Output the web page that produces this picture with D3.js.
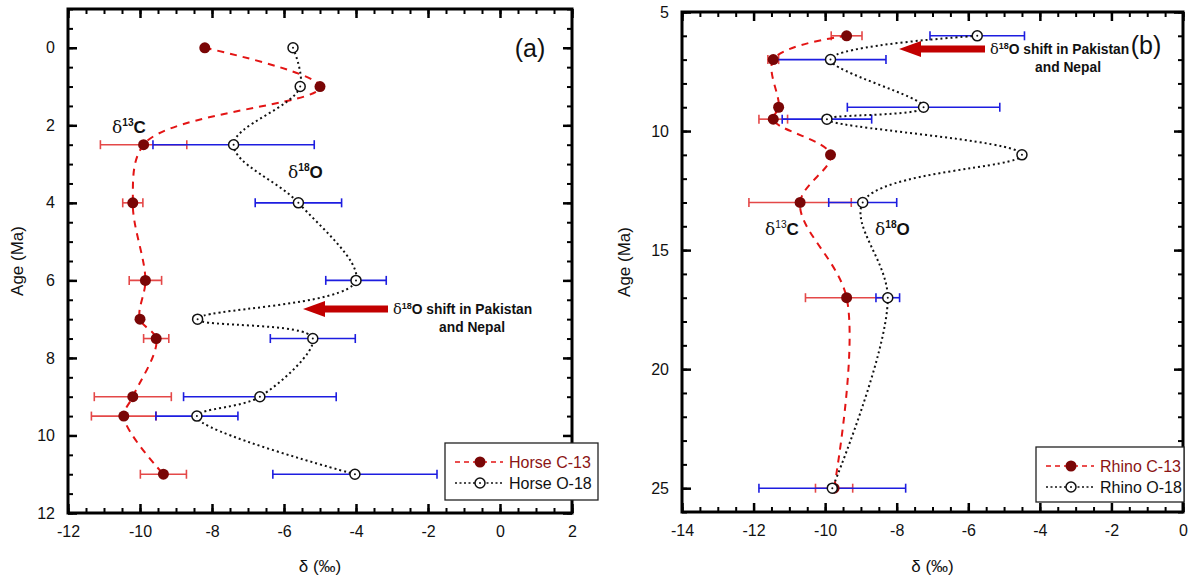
<!DOCTYPE html>
<html lang="en">
<head>
<meta charset="utf-8">
<title>Horse and Rhino isotopes</title>
<script src="https://cdnjs.cloudflare.com/ajax/libs/d3/7.8.5/d3.min.js"></script>
<style>
  body { margin: 0; background: #fff; }
  svg text { font-family: "Liberation Sans", Arial, sans-serif; }
</style>
</head>
<body>
<div id="chart"></div>
<script>
// horse (panel a)
const horseAge = [0, 1, 2.5, 4, 6, 7, 7.5, 9, 9.5, 11];
const horseC13 = [-8.2, -5.0, -9.9, -10.2, -9.85, -10.0, -9.55, -10.2, -10.45, -9.35];
const horseC13Err = [null, null, 1.2, 0.28, 0.45, null, 0.35, 1.07, 0.9, 0.64];
const horseO18 = [-5.75, -5.55, -7.4, -5.6, -4.0, -8.4, -5.2, -6.67, -8.42, -4.03];
const horseO18Err = [null, null, 2.24, 1.2, 0.84, null, 1.18, 2.12, 1.14, 2.28];

// rhino (panel b)
const rhinoAge = [6, 7, 9, 9.5, 11, 13, 17, 25];
const rhinoC13 = [-9.4, -11.45, -11.3, -11.45, -9.85, -10.7, -9.4, -9.75];
const rhinoC13Err = [0.43, 0.15, null, 0.4, null, 1.43, 1.15, 0.52];
const rhinoO18 = [-5.75, -9.85, -7.25, -9.95, -4.5, -8.95, -8.25, -9.8];
const rhinoO18Err = [1.32, 1.55, 2.13, 1.25, null, 0.95, 0.33, 2.05];

const xTicksA = [-12, -10, -8, -6, -4, -2, 0, 2];
const yTicksA = [0, 2, 4, 6, 8, 10, 12];
const xTicksB = [-14, -12, -10, -8, -6, -4, -2, 0];
const yTicksB = [5, 10, 15, 20, 25];

const W = 1199, H = 577;
const svg = d3.select("#chart").append("svg").attr("width", W).attr("height", H);

const RED_LINE = "#e31414", DARK_RED = "#7a0606", RED_ERR = "#e44848", BLUE_ERR = "#1d1de0";
const fmt = v => String(v);   // plain hyphen minus like the original

function range(a, b, step) {
  const out = [];
  for (let v = a; v <= b + 1e-9; v += step) out.push(+v.toFixed(3));
  return out;
}

function drawPanel(p) {
  const x = d3.scaleLinear().domain(p.xDomain).range([p.left, p.right]);
  const y = d3.scaleLinear().domain(p.yDomain).range([p.top, p.bottom]);
  const g = svg.append("g");

  // axes: major + minor, inward ticks, on all four sides
  const axes = [
    {gen: d3.axisBottom(x), tr: "translate(0," + p.bottom + ")", major: p.xTicks, minor: p.xMinor, label: true},
    {gen: d3.axisTop(x), tr: "translate(0," + p.top + ")", major: p.xTicks, minor: p.xMinor, label: false},
    {gen: d3.axisLeft(y), tr: "translate(" + p.left + ",0)", major: p.yTicks, minor: p.yMinor, label: true},
    {gen: d3.axisRight(y), tr: "translate(" + p.right + ",0)", major: p.yTicks, minor: p.yMinor, label: false}
  ];
  axes.forEach(a => {
    g.append("g").attr("transform", a.tr)
      .call(a.gen.tickValues(a.minor).tickSize(-5).tickFormat(""))
      .call(s => s.select(".domain").remove())
      .selectAll("line").attr("stroke", "#000").attr("stroke-width", 2);
    const ax = g.append("g").attr("transform", a.tr)
      .call(a.gen.tickValues(a.major).tickSize(-9).tickPadding(13)
        .tickFormat(a.label ? fmt : ""))
      .call(s => s.select(".domain").remove());
    ax.selectAll("line").attr("stroke", "#000").attr("stroke-width", 2.5);
    ax.selectAll("text").attr("font-size", 16).attr("fill", "#111")
      .style("font-family", "Liberation Sans, Arial, sans-serif");
  });

  g.append("rect")
    .attr("x", p.left).attr("y", p.top)
    .attr("width", p.right - p.left).attr("height", p.bottom - p.top)
    .attr("fill", "none").attr("stroke", "#000").attr("stroke-width", 3);

  // axis titles
  g.append("text")
    .attr("x", (p.left + p.right) / 2).attr("y", 572)
    .attr("text-anchor", "middle").attr("font-size", 17).attr("fill", "#111")
    .text("δ (‰)");
  g.append("text")
    .attr("transform", "translate(" + p.titleX + "," + ((p.top + p.bottom) / 2) + ") rotate(-90)")
    .attr("text-anchor", "middle").attr("font-size", 17).attr("fill", "#111")
    .text("Age (Ma)");

  // error bars
  function errBars(vals, errs, color) {
    p.age.forEach((a, i) => {
      if (errs[i] == null) return;
      const x0 = x(vals[i] - errs[i]), x1 = x(vals[i] + errs[i]), yy = y(a);
      g.append("line").attr("x1", x0).attr("x2", x1).attr("y1", yy).attr("y2", yy)
        .attr("stroke", color).attr("stroke-width", 1.6);
      [x0, x1].forEach(xc => g.append("line").attr("x1", xc).attr("x2", xc)
        .attr("y1", yy - 4.5).attr("y2", yy + 4.5).attr("stroke", color).attr("stroke-width", 1.6));
    });
  }
  errBars(p.c13, p.c13Err, RED_ERR);
  errBars(p.o18, p.o18Err, BLUE_ERR);

  const line = d3.line().curve(d3.curveCatmullRom.alpha(0.6));
  const cPts = p.age.map((a, i) => [x(p.c13[i]), y(a)]);
  const oPts = p.age.map((a, i) => [x(p.o18[i]), y(a)]);

  g.append("path").attr("d", line(cPts)).attr("fill", "none")
    .attr("stroke", RED_LINE).attr("stroke-width", 2).attr("stroke-dasharray", "7,6");
  g.append("path").attr("d", line(oPts)).attr("fill", "none")
    .attr("stroke", "#111").attr("stroke-width", 2).attr("stroke-dasharray", "2,3");

  g.selectAll(".cdot").data(cPts).enter().append("circle")
    .attr("cx", d => d[0]).attr("cy", d => d[1]).attr("r", 5.5).attr("fill", DARK_RED);
  oPts.forEach(d => openMarker(g, d[0], d[1]));

  // legend
  const lg = p.legend;
  g.append("rect").attr("x", lg.x).attr("y", lg.y).attr("width", lg.w).attr("height", lg.h)
    .attr("fill", "#fff").attr("stroke", "#222").attr("stroke-width", 1.3);
  const r1 = lg.y + 19, r2 = lg.y + 40;
  g.append("line").attr("x1", lg.x + 10).attr("x2", lg.x + 58).attr("y1", r1).attr("y2", r1)
    .attr("stroke", RED_LINE).attr("stroke-width", 1.5).attr("stroke-dasharray", "5,4");
  g.append("circle").attr("cx", lg.x + 35).attr("cy", r1).attr("r", 5.5).attr("fill", DARK_RED);
  g.append("line").attr("x1", lg.x + 10).attr("x2", lg.x + 58).attr("y1", r2).attr("y2", r2)
    .attr("stroke", "#111").attr("stroke-width", 1.5).attr("stroke-dasharray", "2,2.5");
  openMarker(g, lg.x + 35, r2);
  g.append("text").attr("x", lg.x + 64).attr("y", r1 + 6).attr("font-size", 16)
    .attr("fill", "#8b1414").text(p.names[0]);
  g.append("text").attr("x", lg.x + 64).attr("y", r2 + 6).attr("font-size", 16)
    .attr("fill", "#111").text(p.names[1]);

  // panel letter
  g.append("text").attr("x", p.letter[0]).attr("y", p.letter[1]).attr("text-anchor", "middle")
    .attr("font-size", 25).attr("fill", "#111").text(p.letter[2]);

  // delta labels
  deltaLabel(g, p.cLabel[0], p.cLabel[1], "13", "C", 17, p.cIsoBold);
  deltaLabel(g, p.oLabel[0], p.oLabel[1], "18", "O", 17, true);

  // shift arrow and note
  const ar = p.arrow;
  g.append("path")
    .attr("d", "M" + ar.tip + "," + ar.y + " L" + (ar.tip + 22) + "," + (ar.y - 8) +
      " L" + (ar.tip + 22) + "," + (ar.y - 3.5) + " L" + ar.end + "," + (ar.y - 3.5) +
      " L" + ar.end + "," + (ar.y + 3.5) + " L" + (ar.tip + 22) + "," + (ar.y + 3.5) +
      " L" + (ar.tip + 22) + "," + (ar.y + 8) + " Z")
    .attr("fill", "#c20000");
  const t = g.append("text").attr("x", ar.textX).attr("y", ar.y + 5).attr("font-size", 13.8)
    .attr("fill", "#111");
  t.append("tspan").text("δ").attr("font-family", "DejaVu Serif, serif").attr("font-size", 14.5);
  t.append("tspan").text("18").attr("font-size", 9).attr("font-weight", "bold").attr("dy", -5);
  t.append("tspan").text("O shift in Pakistan").attr("font-weight", "bold").attr("dy", 5);
  g.append("text").attr("x", ar.nepalX).attr("y", ar.y + 23).attr("text-anchor", "middle")
    .attr("font-size", 13.8).attr("font-weight", "bold").attr("fill", "#111").text("and Nepal");
}

function openMarker(g, cx, cy) {
  g.append("circle").attr("cx", cx).attr("cy", cy).attr("r", 5)
    .attr("fill", "#fff").attr("stroke", "#111").attr("stroke-width", 1.5);
  g.append("circle").attr("cx", cx).attr("cy", cy).attr("r", 1).attr("fill", "#111");
}

function deltaLabel(g, x0, y0, iso, el, size, isoBold) {
  const t = g.append("text").attr("x", x0).attr("y", y0).attr("font-size", size).attr("fill", "#111");
  t.append("tspan").text("δ").attr("font-family", "DejaVu Serif, serif");
  t.append("tspan").text(iso).attr("font-size", size * 0.6)
    .attr("font-weight", isoBold ? "bold" : "normal").attr("dy", -7);
  t.append("tspan").text(el).attr("font-weight", "bold").attr("dy", 7);
}

drawPanel({
  left: 68, right: 572, top: 9, bottom: 513,
  xDomain: [-12, 2], yDomain: [-1, 12],
  xTicks: xTicksA, yTicks: yTicksA,
  xMinor: range(-12, 2, 0.5), yMinor: range(-1, 12, 0.5),
  age: horseAge, c13: horseC13, c13Err: horseC13Err, o18: horseO18, o18Err: horseO18Err,
  titleX: 23,
  legend: {x: 445, y: 443, w: 153, h: 57},
  names: ["Horse C-13", "Horse O-18"],
  letter: [530, 57, "(a)"],
  cLabel: [112, 133], oLabel: [288, 178], cIsoBold: true,
  arrow: {tip: 303, end: 388, y: 309, textX: 393, nepalX: 472}
});

drawPanel({
  left: 682, right: 1183, top: 12, bottom: 512,
  xDomain: [-14, 0], yDomain: [5, 26],
  xTicks: xTicksB, yTicks: yTicksB,
  xMinor: range(-14, 0, 0.5), yMinor: range(5, 26, 1),
  age: rhinoAge, c13: rhinoC13, c13Err: rhinoC13Err, o18: rhinoO18, o18Err: rhinoO18Err,
  titleX: 630,
  legend: {x: 1036, y: 447, w: 148, h: 55},
  names: ["Rhino C-13", "Rhino O-18"],
  letter: [1146, 54, "(b)"],
  cLabel: [765, 235], oLabel: [875, 235], cIsoBold: false,
  arrow: {tip: 899, end: 985, y: 49, textX: 990, nepalX: 1068}
});
</script>
</body>
</html>
